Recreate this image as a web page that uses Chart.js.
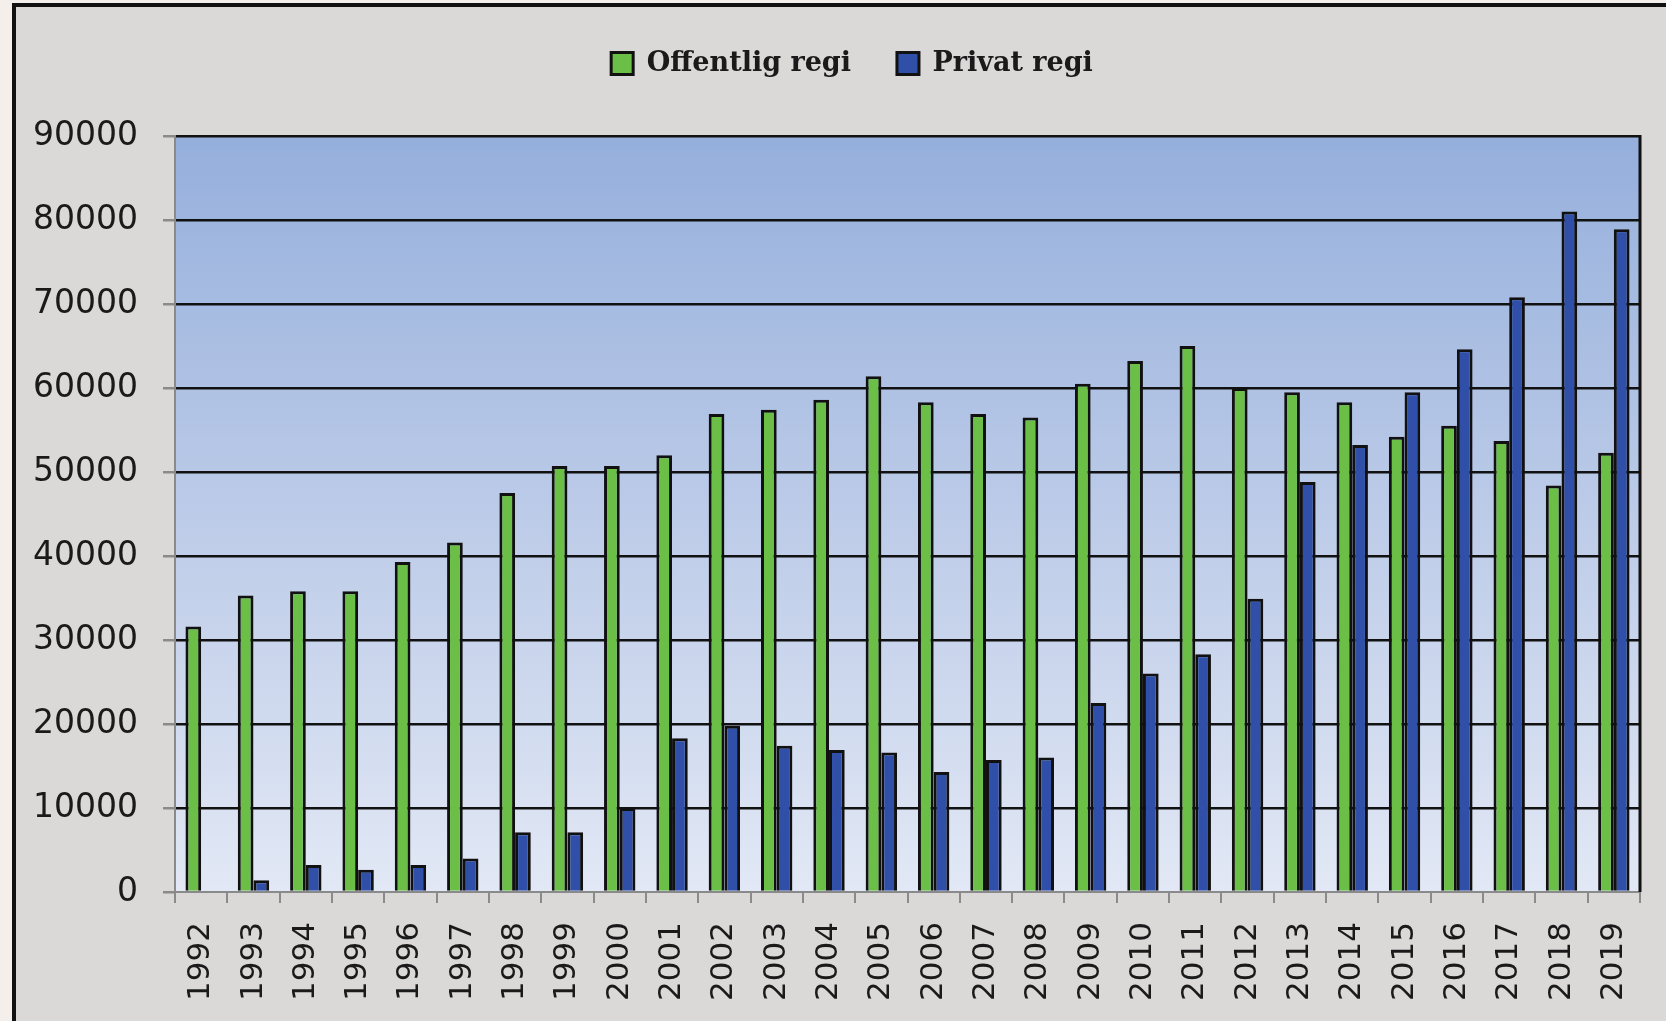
<!DOCTYPE html>
<html>
<head>
<meta charset="utf-8">
<script src="https://cdn.jsdelivr.net/npm/chart.js@4.4.0/dist/chart.umd.min.js"></script>
<style>
  html, body { margin: 0; padding: 0; background: #f4efeb; overflow: hidden; }
  #frame {
    position: absolute; left: 12px; top: 3px; width: 1700px; height: 1100px;
    background: #dbd8d8; border-top: 4px solid #111; border-left: 4px solid #111;
  }
  #chart { position: absolute; left: 0; top: 0; }
</style>
</head>
<body>
<div id="frame"></div>
<canvas id="chart" width="1666" height="1021"></canvas>
<script>
// 年份
const years = ['1992', '1993', '1994', '1995', '1996', '1997', '1998', '1999', '2000', '2001',
    '2002', '2003', '2004', '2005', '2006', '2007', '2008', '2009', '2010', '2011',
    '2012', '2013', '2014', '2015', '2016', '2017', '2018', '2019'];

// Offentlig regi
const offentlig = [31600, 35300, 35800, 35800, 39300, 41600, 47500, 50700, 50700, 52000,
    56900, 57400, 58600, 61400, 58300, 56900, 56500, 60500, 63200, 65000,
    60000, 59500, 58300, 54200, 55500, 53700, 48400, 52300];

// Privat regi
const privat = [0, 1400, 3200, 2650, 3200, 4000, 7100, 7100, 10000, 18300,
    19800, 17400, 16900, 16600, 14300, 15700, 16000, 22500, 26000, 28300,
    34900, 48800, 53200, 59500, 64600, 70800, 81000, 78900];

const seriesNames = ['Offentlig regi', 'Privat regi'];

// 绘图区背景渐变 + 右边框
const plotBackground = {
    id: 'plotBackground',
    beforeDraw(chart) {
        const { ctx, chartArea: a } = chart;
        const g = ctx.createLinearGradient(0, a.top, 0, a.bottom);
        g.addColorStop(0, '#95afdc');
        g.addColorStop(0.5, '#bccbe8');
        g.addColorStop(1, '#e2e8f5');
        ctx.save();
        ctx.fillStyle = g;
        ctx.fillRect(a.left, a.top, a.right - a.left, a.bottom - a.top);
        ctx.restore();
    },
    afterDraw(chart) {
        const { ctx, chartArea: a } = chart;
        ctx.save();
        ctx.strokeStyle = '#111';
        ctx.lineWidth = 3;
        ctx.beginPath();
        ctx.moveTo(a.right, a.top - 1);
        ctx.lineTo(a.right, a.bottom);
        ctx.stroke();
        ctx.restore();
    }
};

// 图例高度固定, 并向右平移
const legendHeight = {
    id: 'legendHeight',
    beforeInit(chart) {
        const fit = chart.legend.fit;
        chart.legend.fit = function () {
            fit.call(this);
            this.height = 132;
        };
    },
    afterLayout(chart) {
        chart.legend.left += 17;
        chart.legend.right += 17;
    }
};

const ctx = document.getElementById('chart').getContext('2d');
new Chart(ctx, {
    type: 'bar',
    data: {
        labels: years,
        datasets: [
            {
                label: seriesNames[0],
                data: offentlig,
                backgroundColor: '#6bbf46',
                borderColor: '#111',
                borderWidth: 3,
                borderSkipped: 'bottom'
            },
            {
                label: seriesNames[1],
                data: privat,
                backgroundColor: '#2f4fa8',
                borderColor: '#111',
                borderWidth: 3,
                borderSkipped: 'bottom'
            }
        ]
    },
    options: {
        responsive: false,
        animation: false,
        layout: {
            padding: { top: 4, left: 30, right: 26, bottom: 0 }
        },
        datasets: {
            bar: { categoryPercentage: 0.6, barPercentage: 1 }
        },
        plugins: {
            legend: {
                position: 'top',
                labels: {
                    color: '#1a1a1a',
                    font: { family: 'DejaVu Serif', size: 27, weight: 'bold' },
                    boxWidth: 22,
                    boxHeight: 22,
                    padding: 46
                }
            },
            tooltip: { enabled: false }
        },
        scales: {
            x: {
                afterFit(scale) {
                    scale.height = 129;
                    scale.paddingLeft = 0;
                    scale.paddingRight = 0;
                },
                grid: {
                    drawOnChartArea: false,
                    tickColor: '#8a8a8a',
                    tickLength: 11,
                    lineWidth: 2
                },
                border: { color: '#8a8a8a', width: 2 },
                ticks: {
                    color: '#1a1a1a',
                    font: { family: 'DejaVu Sans', size: 31 },
                    minRotation: 90,
                    maxRotation: 90,
                    padding: 19
                }
            },
            y: {
                min: 0,
                max: 90000,
                afterFit(scale) { scale.width = 145; },
                grid: {
                    color: (c) => c.tick && c.tick.value === 0 ? 'rgba(0,0,0,0)' : '#111',
                    lineWidth: 2.5,
                    tickColor: '#8a8a8a',
                    tickLength: 12
                },
                border: { color: '#8a8a8a', width: 2 },
                ticks: {
                    stepSize: 10000,
                    color: '#1a1a1a',
                    font: { family: 'DejaVu Sans', size: 33 },
                    padding: 25,
                    callback: (v) => String(v)
                }
            }
        }
    },
    plugins: [plotBackground, legendHeight]
});
</script>
</body>
</html>
